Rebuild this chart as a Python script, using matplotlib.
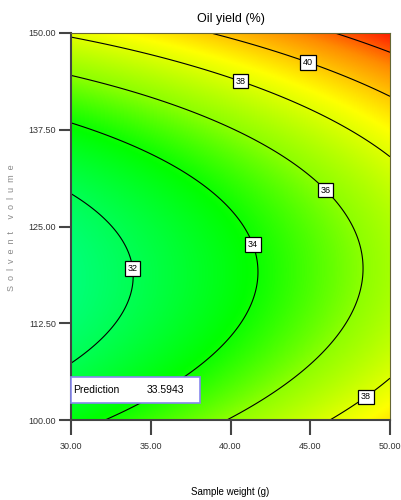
import numpy as np
import matplotlib
matplotlib.use("Agg")
import matplotlib.pyplot as plt
from matplotlib.colors import LinearSegmentedColormap
from matplotlib.patches import Rectangle

plt.rcParams["font.family"] = ["Liberation Sans", "DejaVu Sans"]

# ---- data ----
title = "Oil yield (%)"
x_label = "Sample weight (g)"
y_label = "Solvent volume"
x_range = [30.0, 50.0]
y_range = [100.0, 150.0]
x_ticks = [30.0, 35.0, 40.0, 45.0, 50.0]
y_ticks = [100.0, 112.5, 125.0, 137.5, 150.0]
levels = [32, 34, 36, 38, 40, 42]
# quadratic response surface (coded units): b0, bA, bAA, bBB, bAB, B centre
coef_b0 = 33.525
coef_A = 2.702
coef_AA = 0.336
coef_BB = 4.4
coef_AB = -0.25
coef_Bc = -0.24
prediction_label = "Prediction"
prediction_value = "33.5943"
label_points = [(33.89, 119.6), (41.6, 122.8), (46.2, 130.2),
                (40.78, 144.7), (45.05, 147.3), (48.1, 104.1)]

# ---- surface ----
xs = np.linspace(x_range[0], x_range[1], 300)
ys = np.linspace(y_range[0], y_range[1], 300)
X, Y = np.meshgrid(xs, ys)
A = (X - 40.0) / 10.0
B = (Y - 125.0) / 25.0
dB = B - coef_Bc
Z = coef_b0 + coef_A * A + coef_AA * A**2 + coef_BB * dB**2 + coef_AB * A * dB

vmin, vmax = 31.0, 43.5
def frac(v):
    return (v - vmin) / (vmax - vmin)
cmap = LinearSegmentedColormap.from_list(
    "de", [(0.0, (0.0, 1.0, 0.5)),
           (frac(33.8), (0.0, 1.0, 0.0)),
           (frac(36.0), (0.55, 1.0, 0.0)),
           (frac(38.8), (1.0, 1.0, 0.0)),
           (frac(41.3), (1.0, 0.55, 0.0)),
           (1.0, (1.0, 0.0, 0.0))])

fig = plt.figure(figsize=(4.01, 5.0), dpi=100)
ax = fig.add_axes([71/401, 80/500, 319/401, 387/500])
ax.imshow(Z, origin="lower", extent=[x_range[0], x_range[1], y_range[0], y_range[1]],
          aspect="auto", cmap=cmap, vmin=vmin, vmax=vmax, interpolation="bilinear")
cs = ax.contour(X, Y, Z, levels=levels, colors="black", linewidths=0.8)
labels = ax.clabel(cs, fmt="%d", fontsize=6.5, inline=False, manual=label_points)
for t in labels:
    t.set_rotation(0)
    t.set_bbox(dict(boxstyle="square,pad=0.3", facecolor="white", edgecolor="black", linewidth=0.9))
    t.set_zorder(5)

ax.set_xlim(x_range)
ax.set_ylim(y_range)
ax.set_xticks(x_ticks)
ax.set_yticks(y_ticks)
ax.set_xticklabels([f"{v:.2f}" for v in x_ticks])
ax.set_yticklabels([f"{v:.2f}" for v in y_ticks])
ax.tick_params(axis="x", direction="out", length=11, width=1.5, color="#444444",
               labelsize=6.5, labelcolor="#333333", pad=5)
ax.tick_params(axis="y", direction="out", length=9, width=1.5, color="#444444",
               labelsize=6.5, labelcolor="#333333", pad=2)
for s in ["left", "bottom"]:
    ax.spines[s].set_linewidth(1.5)
    ax.spines[s].set_color("#444444")
for s in ["top", "right"]:
    ax.spines[s].set_linewidth(0.8)
    ax.spines[s].set_color("#666633")

ax.set_title(title, fontsize=9, pad=8)
fig.text(230/401, 1 - 492/500, x_label, ha="center", va="center", fontsize=7)
fig.text(12/401, 1 - 228/500, "  ".join(y_label), rotation=90, ha="center",
         va="center", fontsize=6.5, color="#888888")

# prediction box
ax.add_patch(Rectangle((30.0, 102.2), 8.1, 3.4, facecolor="white", edgecolor="#8888ee",
                       linewidth=1.2, zorder=6, clip_on=False))
ax.text(30.13, 103.9, prediction_label, fontsize=7.5, va="center", ha="left", zorder=7)
ax.text(34.76, 103.9, prediction_value, fontsize=7.5, va="center", ha="left", zorder=7)

fig.savefig("out.png", dpi=100)
